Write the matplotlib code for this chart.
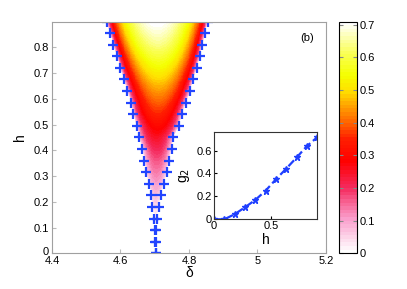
import numpy as np
import matplotlib
matplotlib.use("Agg")
import matplotlib.pyplot as plt
from matplotlib.colors import LinearSegmentedColormap, ListedColormap
from matplotlib import transforms

plt.rcParams['font.family'] = ['Liberation Sans', 'DejaVu Sans']
plt.rcParams['font.size'] = 8

h_b = [0.0, 0.045, 0.09, 0.135, 0.18, 0.225, 0.27, 0.315, 0.36, 0.405, 0.45,
       0.495, 0.54, 0.585, 0.63, 0.675, 0.72, 0.765, 0.81, 0.855, 0.9]
delta_left = [4.703, 4.701, 4.702, 4.699, 4.693, 4.688, 4.683, 4.674, 4.669, 4.664, 4.655,
              4.647, 4.637, 4.630, 4.620, 4.610, 4.599, 4.589, 4.579, 4.569, 4.560]
delta_right = [4.703, 4.703, 4.705, 4.707, 4.713, 4.717, 4.727, 4.735, 4.743, 4.749, 4.754,
               4.771, 4.780, 4.791, 4.803, 4.813, 4.823, 4.832, 4.839, 4.847, 4.855]

# inset data
h_in = [0.0, 0.09, 0.18, 0.27, 0.36, 0.45, 0.54, 0.63, 0.72, 0.81, 0.9]
g2_in = [0.0, 0.0, 0.044, 0.105, 0.169, 0.25, 0.35, 0.443, 0.54, 0.64, 0.717]

cb_ticks = [0, 0.1, 0.2, 0.3, 0.4, 0.5, 0.6, 0.7]
vmax = 0.71

# colormap white -> pink -> red -> orange -> yellow -> white
nodes = [
    (0.0, (1.0, 1.0, 1.0)),
    (0.1 / vmax, (0.98, 0.62, 0.80)),
    (0.2 / vmax, (0.96, 0.16, 0.36)),
    (0.28 / vmax, (1.0, 0.0, 0.0)),
    (0.35 / vmax, (1.0, 0.12, 0.0)),
    (0.4 / vmax, (1.0, 0.38, 0.0)),
    (0.45 / vmax, (1.0, 0.62, 0.0)),
    (0.5 / vmax, (1.0, 0.88, 0.0)),
    (0.55 / vmax, (0.96, 1.0, 0.0)),
    (0.62 / vmax, (0.98, 1.0, 0.35)),
    (1.0, (1.0, 1.0, 1.0)),
]
base = LinearSegmentedColormap.from_list('wprywy', nodes)
cmap = ListedColormap(base(np.linspace(0, 1, 64)))

# build the field between the two boundaries
d = np.linspace(4.4, 5.2, 600)
hh = np.linspace(0, 0.9, 300)
D, H = np.meshgrid(d, hh)
L = np.interp(H, h_b, delta_left)
R = np.interp(H, h_b, delta_right)
G = np.interp(H, h_in, g2_in)
c = (L + R) / 2
w = np.maximum((R - L) / 2, 1e-6)
u = (D - c) / w
Z = np.where(np.abs(u) < 1, G * np.clip(1 - u ** 2, 0, 1) ** 0.55, 0.0)

fig = plt.figure(figsize=(4.07, 2.89), dpi=100)
ax = fig.add_axes([0.1278, 0.1235, 0.673, 0.802])
cax = fig.add_axes([0.833, 0.1235, 0.0442, 0.802])
axin = fig.add_axes([0.5258, 0.2412, 0.2538, 0.3031])

pc = ax.pcolormesh(d, hh, Z, cmap=cmap, vmin=0, vmax=vmax, shading='auto', rasterized=True)
ax.plot(delta_left, h_b, '+', color='#2245ff', ms=7, mew=1.6)
ax.plot(delta_right, h_b, '+', color='#2245ff', ms=7, mew=1.6)
ax.set_xlim(4.4, 5.2)
ax.set_ylim(0, 0.9)
ax.set_xticks([4.4, 4.6, 4.8, 5.0, 5.2])
ax.set_xticklabels(['4.4', '4.6', '4.8', '5', '5.2'])
ax.set_yticks(np.arange(0, 0.81, 0.1))
ax.set_yticklabels(['0', '0.1', '0.2', '0.3', '0.4', '0.5', '0.6', '0.7', '0.8'])
ax.tick_params(direction='in', length=3, color='#bbbbbb', pad=2)
ax.tick_params(axis='x', pad=2)
# lift the "0" label a little so it clears "4.4", as in the reference
ax.get_yticklabels()[0].set_transform(
    ax.get_yticklabels()[0].get_transform() + transforms.ScaledTranslation(0, 2 / 100, fig.dpi_scale_trans))
for s in ax.spines.values():
    s.set_color('#a0a0a0')
    s.set_linewidth(0.8)
ax.set_xlabel('δ', fontsize=10, labelpad=0)
ax.set_ylabel('h', fontsize=10, labelpad=5)
ax.text(0.955, 0.93, '(b)', transform=ax.transAxes, ha='right', va='center', fontsize=8)

cb = fig.colorbar(pc, cax=cax, ticks=cb_ticks)
cb.ax.set_yticklabels(['0', '0.1', '0.2', '0.3', '0.4', '0.5', '0.6', '0.7'])
cb.ax.tick_params(direction='in', length=3, left=True, right=True, pad=2, color='#888888')
cb.outline.set_linewidth(0.8)

axin.plot(h_in, g2_in, '--', color='#1f3fff', lw=1.6, marker='*', ms=5)
axin.set_xlim(0, 0.9)
axin.set_ylim(0, 0.765)
axin.set_xticks([0, 0.5])
axin.set_xticklabels(['0', '0.5'])
axin.set_yticks([0, 0.2, 0.4, 0.6])
axin.set_yticklabels(['0', '0.2', '0.4', '0.6'])
axin.tick_params(direction='in', length=2.5, pad=1.5)
for s in axin.spines.values():
    s.set_color('#333333')
    s.set_linewidth(0.8)
axin.set_xlabel('h', fontsize=10, labelpad=1)
axin.set_ylabel('g$_2$', fontsize=10, labelpad=3)

fig.savefig('out.png', dpi=100)
